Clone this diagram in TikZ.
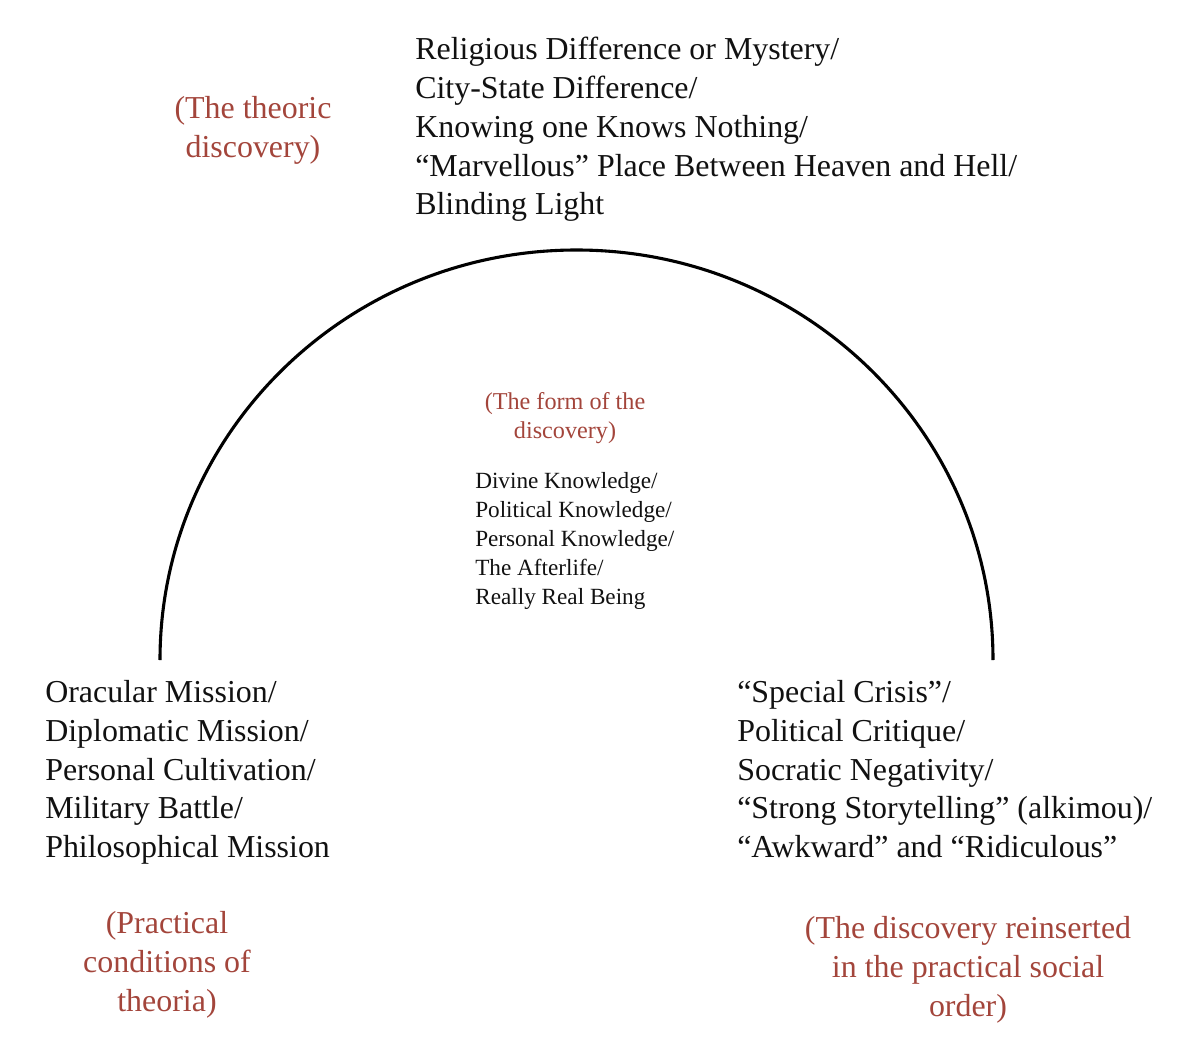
\documentclass[tikz,border=0pt]{standalone}
\usepackage{fontspec}
\setmainfont{Liberation Serif}
\usepackage{tikz}
\usetikzlibrary{positioning,calc}
\definecolor{cNote}{HTML}{A3453B}
\definecolor{cText}{HTML}{111111}
\tikzset{
  big/.style={align=left, inner sep=0pt, text=cText, font=\fontsize{22.7}{27.6}\selectfont},
  small/.style={align=left, inner sep=0pt, text=cText, font=\fontsize{16.5}{20.6}\selectfont},
  note/.style={align=center, inner sep=0pt, text=cNote, font=\fontsize{22.7}{27.6}\selectfont},
  smallnote/.style={align=center, inner sep=0pt, text=cNote, font=\fontsize{17.2}{20.6}\selectfont},
  arcline/.style={line width=2.2pt, black},
}
\begin{document}
\begin{tikzpicture}[x=0.025cm, y=-0.025cm]
  \useasboundingbox (0,0) rectangle (1200,1062);
  % the arch
  \coordinate (lfoot) at (160, 660);
  \coordinate (rfoot) at (993, 660);
  \draw[arcline] (lfoot) arc[start angle=180, end angle=360, x radius=416.5, y radius=410];
  % top: the theoric discovery
  \node[note, anchor=north] (theoric) at (253, 96) {(The theoric\\discovery)};
  \node[big, anchor=north west] (top) at (415, 37) {Religious Difference or Mystery/\\City-State Difference/\\Knowing one Knows Nothing/\\``Marvellous'' Place Between Heaven and Hell/\\Blinding Light};
  % inside the arch
  \node[smallnote, anchor=north] (form) at (565, 392) {(The form of the\\discovery)};
  \node[small, anchor=north west] (inner) at (475, 472) {Divine Knowledge/\\Political Knowledge/\\Personal Knowledge/\\The Afterlife/\\Really Real Being};
  % left foot
  \node[big, anchor=north west] (left) at (45, 680) {Oracular Mission/\\Diplomatic Mission/\\Personal Cultivation/\\Military Battle/\\Philosophical Mission};
  \node[note, anchor=north] (practical) at (167, 911) {(Practical\\conditions of\\theoria)};
  % right foot
  \node[big, anchor=north west] (right) at (737, 680) {``Special Crisis''/\\Political Critique/\\Socratic Negativity/\\``Strong Storytelling'' (alkimou)/\\``Awkward'' and ``Ridiculous''};
  \node[note, anchor=north] (reinserted) at (968, 916) {(The discovery reinserted\\in the practical social\\order)};
\end{tikzpicture}
\end{document}
